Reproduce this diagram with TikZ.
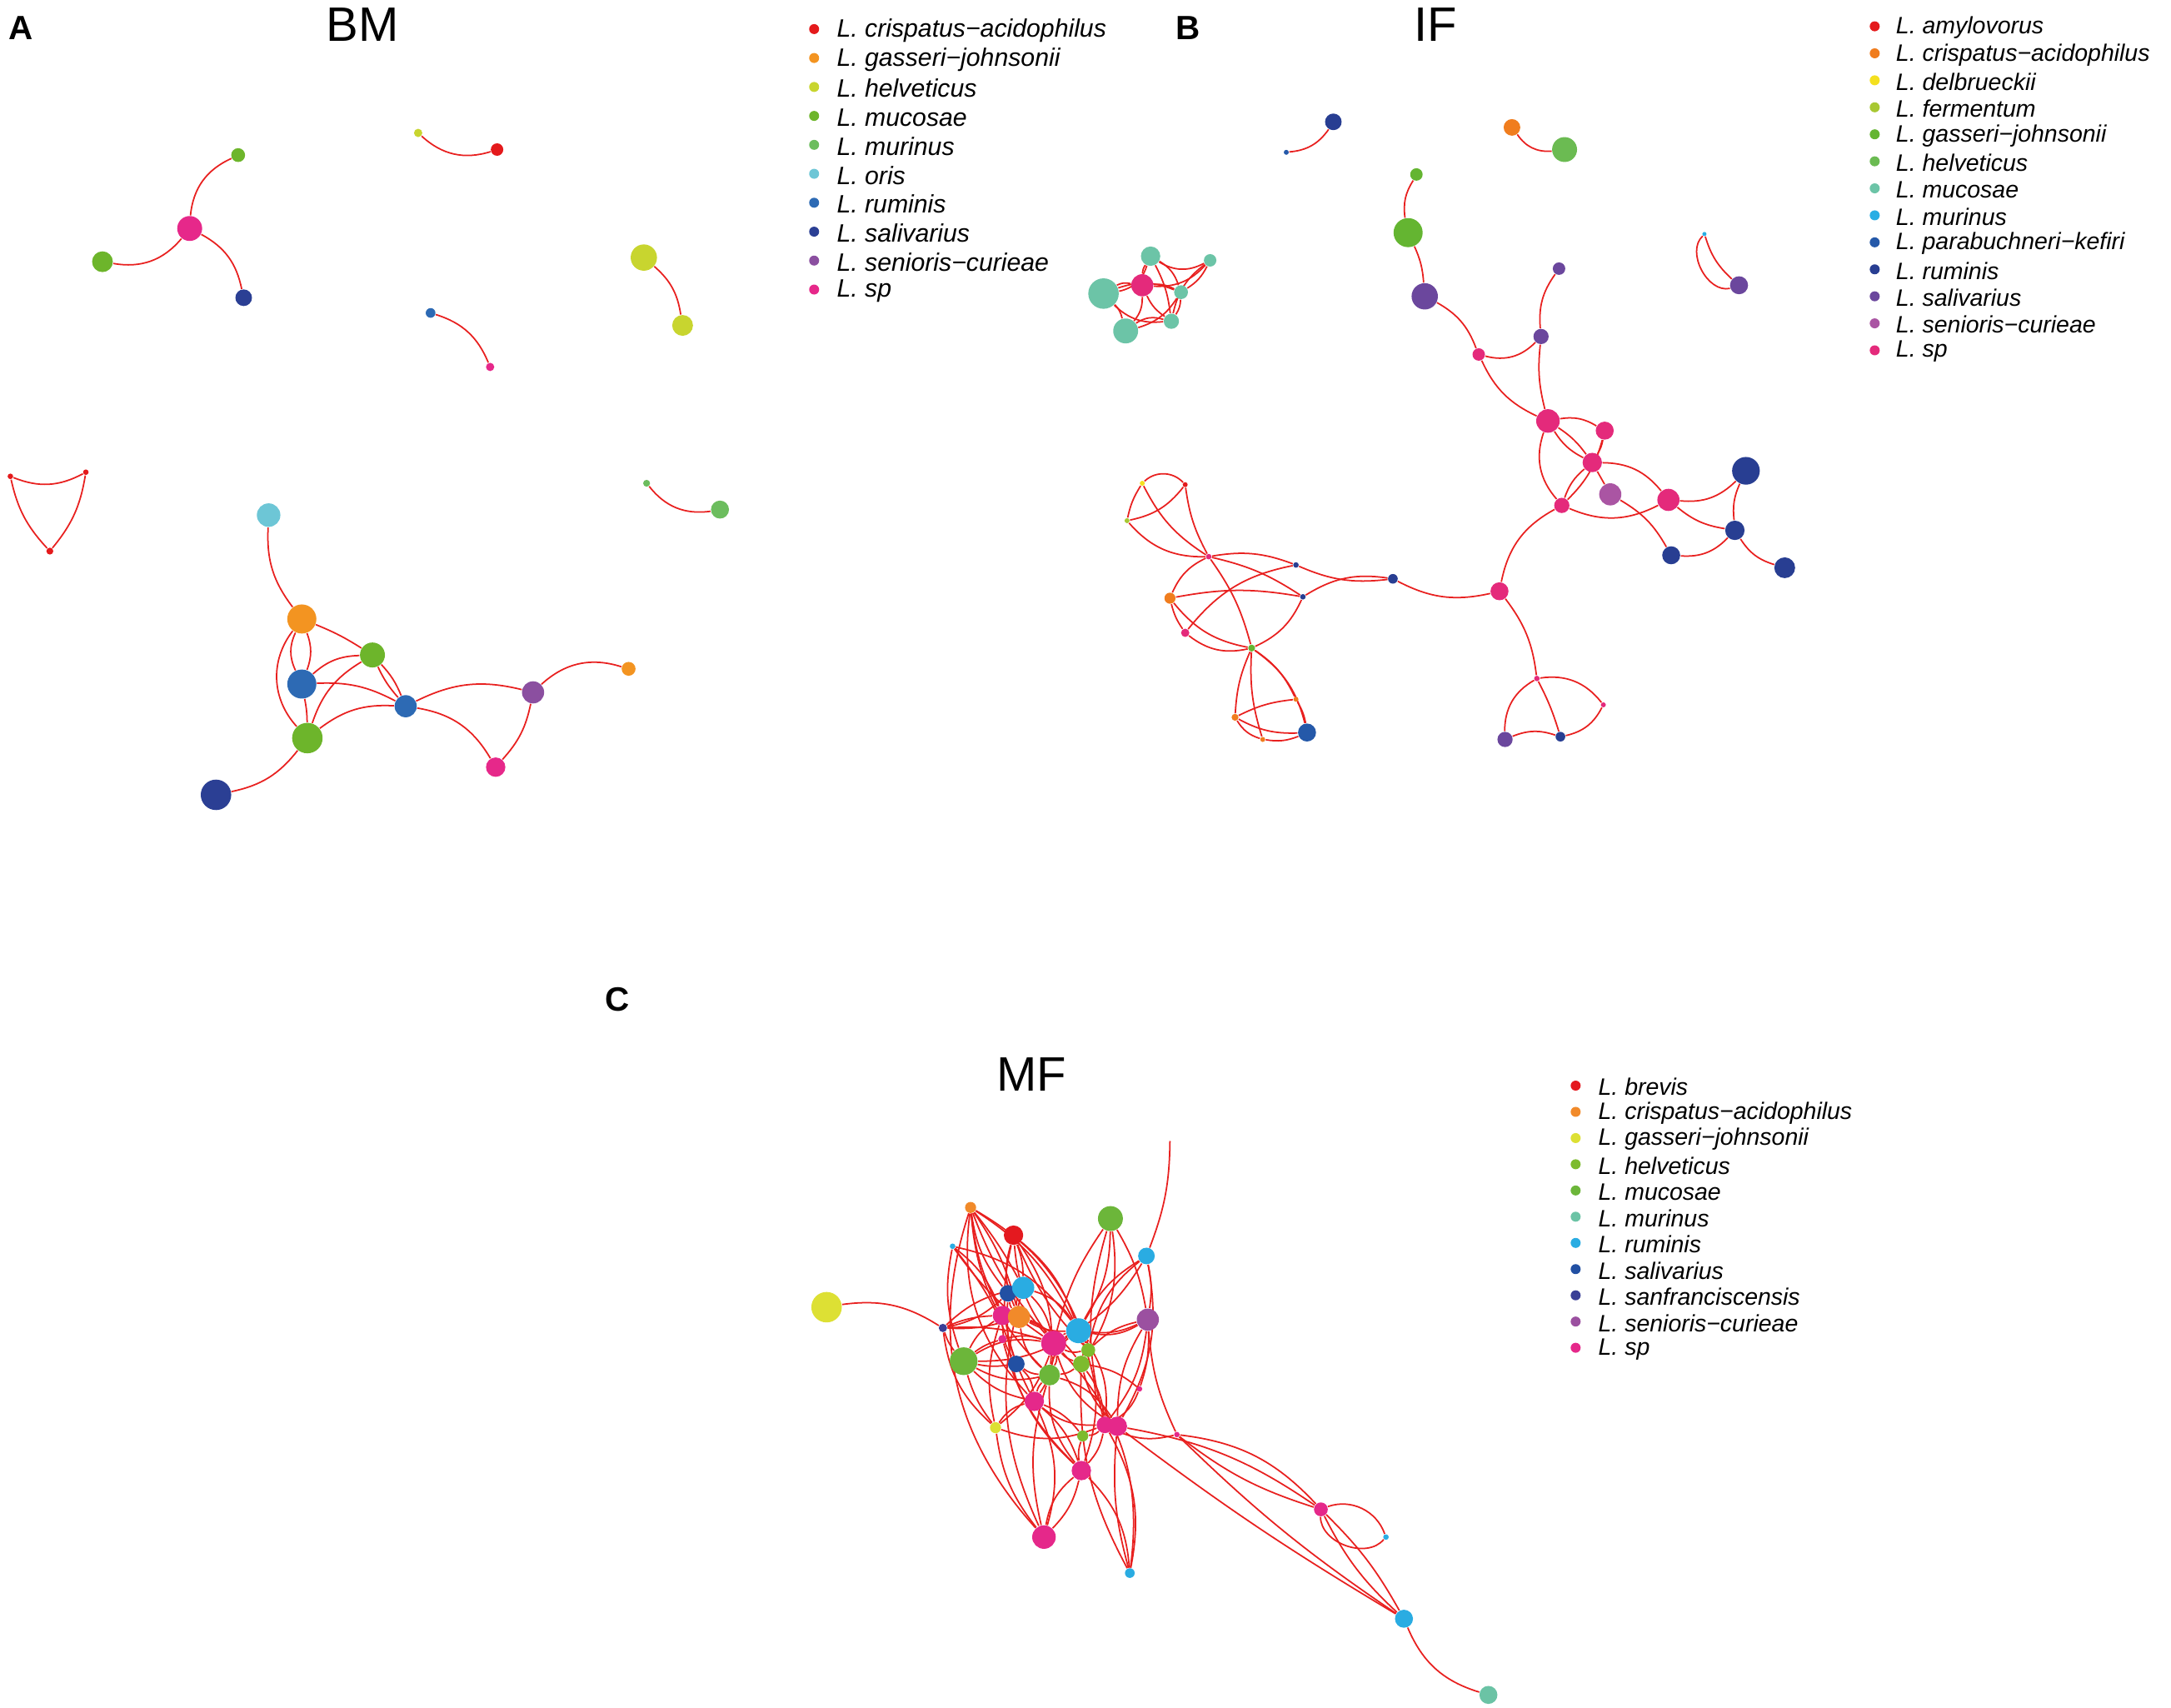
\documentclass[tikz,border=0pt]{standalone}
\usepackage{fontspec}
\setmainfont{Liberation Sans}
\usepackage{tikz}
\usetikzlibrary{backgrounds}

% 颜色
\definecolor{aCri}{HTML}{E41A1C}
\definecolor{aGas}{HTML}{F39421}
\definecolor{aHel}{HTML}{C8D52F}
\definecolor{aMuc}{HTML}{6DB52B}
\definecolor{aMur}{HTML}{6CBD5E}
\definecolor{aOri}{HTML}{6DC6D6}
\definecolor{aRum}{HTML}{2D6AB4}
\definecolor{aSal}{HTML}{2B3F94}
\definecolor{aSen}{HTML}{8B4FA0}
\definecolor{aSp}{HTML}{E6288A}
\definecolor{bAmy}{HTML}{E41A1C}
\definecolor{bCri}{HTML}{F07D1E}
\definecolor{bDel}{HTML}{F4E01F}
\definecolor{bFer}{HTML}{A8C833}
\definecolor{bGas}{HTML}{64B531}
\definecolor{bHel}{HTML}{6BBB52}
\definecolor{bMuc}{HTML}{6CC4A7}
\definecolor{bMur}{HTML}{29AEE4}
\definecolor{bPar}{HTML}{2559A9}
\definecolor{bRum}{HTML}{283E92}
\definecolor{bSal}{HTML}{6B479D}
\definecolor{bSen}{HTML}{AA55A3}
\definecolor{bSp}{HTML}{E42A7B}
\definecolor{cBre}{HTML}{E4191F}
\definecolor{cCri}{HTML}{F18A2A}
\definecolor{cGas}{HTML}{DDE034}
\definecolor{cHel}{HTML}{7DBB2E}
\definecolor{cMuc}{HTML}{6CB63A}
\definecolor{cMur}{HTML}{6BC3A5}
\definecolor{cRum}{HTML}{2AACE2}
\definecolor{cSal}{HTML}{2250A3}
\definecolor{cSan}{HTML}{3A3F96}
\definecolor{cSen}{HTML}{9B50A0}
\definecolor{cSp}{HTML}{E5288A}
\definecolor{edgered}{HTML}{E8201F}

\begin{document}
\begin{tikzpicture}[x=0.1662mm, y=-0.1662mm,
    vx/.style={circle, inner sep=0pt, draw=none},
    edge/.style={draw=edgered, line width=0.5pt},
    ldot/.style={circle, inner sep=0pt, minimum size=1.2mm},
    ltxt/.style={anchor=west, inner sep=0pt, font=\fontsize{8.6}{9}\selectfont\itshape},
    ttl/.style={font=\fontsize{16.5}{18}\selectfont},
    plab/.style={font=\fontsize{11.5}{13}\selectfont\bfseries}]
    \useasboundingbox (0,0) rectangle (1568,1233);

    % 标题
    \node[plab] (labA) at (15,20) {A};
    \node[ttl] (tBM) at (262,18) {BM};
    \node[plab] (labB) at (858,20) {B};
    \node[ttl] (tIF) at (1037,18) {IF};
    \node[plab] (labC) at (446,722) {C};
    \node[ttl] (tMF) at (745,776) {MF};

    % 图例 A
    \foreach \t/\c [count=\i] in {crispatus−acidophilus/aCri, gasseri−johnsonii/aGas,
        helveticus/aHel, mucosae/aMuc, murinus/aMur, oris/aOri, ruminis/aRum,
        salivarius/aSal, senioris−curieae/aSen, sp/aSp} {
        \node[ldot, fill=\c] (lda\i) at (588,21+20.9*\i-20.9) {};
        \node[ltxt] (lta\i) at (604,22+20.9*\i-20.9) {L. \t};
    }
    % 图例 B
    \foreach \t/\c [count=\i] in {amylovorus/bAmy, crispatus−acidophilus/bCri,
        delbrueckii/bDel, fermentum/bFer, gasseri−johnsonii/bGas, helveticus/bHel,
        mucosae/bMuc, murinus/bMur, parabuchneri−kefiri/bPar, ruminis/bRum,
        salivarius/bSal, senioris−curieae/bSen, sp/bSp} {
        \node[ldot, fill=\c] (ldb\i) at (1354,19+19.5*\i-19.5) {};
        \node[ltxt, font=\fontsize{8.1}{9}\selectfont\itshape] (ltb\i) at (1369,20+19.5*\i-19.5) {L. \t};
    }
    % 图例 C
    \foreach \t/\c [count=\i] in {brevis/cBre, crispatus−acidophilus/cCri,
        gasseri−johnsonii/cGas, helveticus/cHel, mucosae/cMuc, murinus/cMur,
        ruminis/cRum, salivarius/cSal, sanfranciscensis/cSan,
        senioris−curieae/cSen, sp/cSp} {
        \node[ldot, fill=\c] (ldc\i) at (1138,784+18.93*\i-18.93) {};
        \node[ltxt, font=\fontsize{8.1}{9}\selectfont\itshape] (ltc\i) at (1154,785+18.93*\i-18.93) {L. \t};
    }

    % 网络 A 的节点
    \foreach \n/\x/\y/\r/\c in {
        aStar/137/165/9/aSp, aMu1/172/112/5/aMuc, aMu2/74/189/7.5/aMuc, aSa1/176/215/6/aSal,
        aHt/302/96/3/aHel, aCr/359/108/4.5/aCri, aHe1/465/186/9.5/aHel, aHe2/493/235/7.5/aHel,
        aRs/311/226/3.5/aRum, aSs/354/265/3/aSp,
        aS1/7.5/344/2/aCri, aS2/62/341/2/aCri, aS3/36/398/2.5/aCri,
        aMt/467/349/2.5/aMur, aMr/520/368/6.5/aMur,
        aOr/194/372/8.5/aOri, aGa/218/447/10.5/aGas, aMc1/269/473/9/aMuc,
        aRu1/218/494/10.5/aRum, aRu2/293/510/8/aRum, aMc2/222/533/11/aMuc,
        aSa2/156/574/11/aSal, aSe/385/500/8/aSen, aGs/454/483/5/aGas, aSp/358/554/7/aSp} {
        \node[vx, fill=\c, minimum size=\r*0.3324mm] (\n) at (\x,\y) {};
    }
    % 网络 B 的节点
    \foreach \n/\x/\y/\r/\c in {
        bPt/929/110/1.8/bPar, bR0/963/88/6/bRum, bCr/1092/92/6/bCri, bHe/1130/108/9/bHel,
        bT1/797/212/11/bMuc, bTs/825/206/8/bSp, bT2/831/185/7/bMuc, bT3/874/188/4.5/bMuc,
        bT4/853/211/5/bMuc, bT5/846/232/5.5/bMuc, bT6/813/239/9/bMuc,
        bG1/1023/126/4.5/bGas, bG2/1017/168/10.5/bGas, bS1/1029/214/9.5/bSal,
        bP1/1068/256/4.5/bSp, bS2/1113/243/5.5/bSal, bS3/1126/194/4.5/bSal,
        bMt/1231/169/1.5/bMur, bSv/1256/206/6.5/bSal,
        bP2/1118/304/8.5/bSp, bP3/1159/311/6.5/bSp, bP4/1150/334/7/bSp, bSe/1163/357/8/bSen,
        bP5/1205/361/8/bSp, bP6/1128/365/5.5/bSp, bR1/1261/340/10/bRum, bR2/1253/383/7/bRum,
        bR4/1207/401/6.5/bRum, bR3/1289/410/7.5/bRum,
        bQ/1083/427/6.5/bSp, bRm/1006/418/3.5/bRum, bPt2/1110/490/2/bSp,
        bSa/1087/534/5.5/bSal, bRs/1127/532/3.5/bRum, bPt3/1158/509/1.8/bSp,
        bY/825/349/1.8/bDel, bRd/856/350/1.8/bAmy, bF/814/376/1.8/bFer, bL1/873/402/2/bSp,
        bRt1/936/408/2/bRum, bO1/845/432/4/bCri, bRt2/941/431/2/bRum, bL2/856/457/3/bSp,
        bGj/904/468/2.5/bGas, bO2/936/505/1.8/bCri, bO3/892/518/2.5/bCri, bO4/912/534/1.8/bCri,
        bPb/944/529/6.5/bPar} {
        \node[vx, fill=\c, minimum size=\r*0.3324mm] (\n) at (\x,\y) {};
    }
    % 网络 C 的节点
    \foreach \n/\x/\y/\r/\c in {
        cGb/597/944/11/cGas, cSf/681/959/3/cSan, cOt/701/872/4/cCri, cRt/688/900/2/cRum,
        cBr/732/892/7/cBre, cMb/802/880/9/cMuc, cRr/828/907/6/cRum,
        cSa1/728/934/6/cSal, cRu1/739/930/8/cRum, cSp1/724/950/7/cSp, cOr/736/951/8/cCri,
        cRu2/779/961/9/cRum, cSe/829/953/8/cSen, cSp2/724/967/3/cSp, cSp3/761/970/9/cSp,
        cHe1/786/975/5/cHel, cMu1/696/983/10/cMuc, cSa2/734/985/6/cSal, cHe2/781/985/6/cHel,
        cMu2/758/993/7.5/cMuc, cSp4/823/1003/2/cSp, cSp5/747/1012/7/cSp, cGs/719/1031/4/cGas,
        cSp6/798/1029/6/cSp, cSp7/807/1030/7/cSp, cHe3/782/1037/4/cHel, cSp8/850/1036/2/cSp,
        cSp9/781/1062/7/cSp, cSpA/754/1110/8.5/cSp, cRs/816/1136/3.5/cRum,
        cSpB/954/1090/5/cSp, cRx/1001/1110/2/cRum, cRy/1014/1169/6.5/cRum, cMr/1075/1224/6.5/cMur} {
        \node[vx, fill=\c, minimum size=\r*0.3324mm] (\n) at (\x,\y) {};
    }
    \coordinate (cTop) at (845,824);

    \begin{scope}[on background layer]
    % 网络 A 的边
    \foreach \a/\b/\s in {aStar/aMu1/30, aStar/aMu2/30, aStar/aSa1/25, aHt/aCr/-30,
        aHe1/aHe2/20, aRs/aSs/25, aS1/aS2/-25, aS1/aS3/-15, aS2/aS3/15, aMt/aMr/-30,
        aOr/aGa/-20, aGa/aMc1/5, aGa/aRu1/-25, aGa/aRu1/20, aGa/aMc2/-40,
        aMc1/aRu1/-20, aMc1/aRu2/10, aMc1/aRu2/-8, aMc1/aMc2/-20, aRu1/aRu2/15,
        aRu1/aMc2/5, aRu2/aMc2/-20, aRu2/aSe/20, aRu2/aSp/25, aSe/aSp/15,
        aSe/aGs/30, aMc2/aSa2/20} {
        \draw[edge] (\a) to[bend left=\s] (\b);
    }
    % 网络 B 的边
    \foreach \a/\b/\s in {bPt/bR0/-25, bCr/bHe/-30,
        bT1/bT2/-30, bT1/bTs/20, bT1/bT5/-25, bT1/bT6/15, bT1/bT4/20, bTs/bT2/15,
        bTs/bT3/-25, bTs/bT4/15, bTs/bT5/-15, bTs/bT6/20, bT2/bT3/-30, bT2/bT4/20,
        bT3/bT4/15, bT3/bT5/-20, bT4/bT5/15, bT6/bT5/25, bT6/bT4/-20, bT2/bT5/10,
        bG1/bG2/-20, bG2/bS1/10, bS1/bP1/20, bP1/bS2/-30, bS2/bS3/20, bP1/bP2/-20,
        bS2/bP2/-10, bMt/bSv/-75, bMt/bSv/-15,
        bP2/bP3/20, bP2/bP4/10, bP2/bP4/-15, bP2/bP6/-30, bP3/bP4/10, bP3/bP6/15,
        bP4/bSe/0, bP4/bP5/25, bP4/bP6/-15, bP6/bP5/-25, bSe/bR4/15, bP5/bR1/-25,
        bP5/bR2/-15, bR1/bR2/-15, bR2/bR3/-20, bR4/bR2/-25, bP6/bQ/-25, bQ/bRm/20,
        bQ/bPt2/15, bPt2/bSa/-30, bPt2/bRs/5, bPt2/bPt3/30, bSa/bRs/20, bRs/bPt3/-25,
        bY/bRd/45, bY/bF/-10, bRd/bF/20, bY/bL1/-15, bRd/bL1/-10, bF/bL1/-25,
        bL1/bRt1/15, bL1/bO1/-20, bL1/bGj/10, bL1/bRt2/10, bO1/bRt2/10, bO1/bL2/-10,
        bO1/bGj/-20, bL2/bRt1/20, bL2/bGj/-25, bGj/bRt2/-20, bRt1/bRm/-15, bRt2/bRm/20,
        bGj/bO2/15, bGj/bO3/-10, bGj/bO4/-10, bGj/bPb/20, bO3/bO2/10, bO3/bO4/-20,
        bO3/bPb/-15, bO4/bPb/-15, bO2/bPb/10} {
        \draw[edge] (\a) to[bend left=\s] (\b);
    }
    % 网络 C 的边
    \foreach \a/\b/\s in {cGb/cSf/20, cSf/cSp1/10, cSf/cMu1/-10, cSf/cRu1/15, cSf/cOr/-10,
        cSf/cSp3/10, cSf/cSa1/-15, cSf/cGs/-20,
        cOt/cSp1/-10, cOt/cOr/10, cOt/cSa1/-15, cOt/cRu2/15, cOt/cSp3/-10, cOt/cMu2/-20,
        cOt/cHe1/20, cOt/cRu1/5, cOt/cSp5/-25,
        cRt/cSp1/15, cRt/cMu1/-15, cRt/cSa2/10, cRt/cSp3/-10, cRt/cRu2/20,
        cBr/cRu1/10, cBr/cSp3/-15, cBr/cRu2/15, cBr/cHe1/-10, cBr/cOr/-20, cBr/cMu2/20,
        cMb/cRu2/15, cMb/cSp3/-10, cMb/cHe2/20, cMb/cSp6/-15, cMb/cSe/10,
        cRr/cTop/-10, cRr/cRu2/-15, cRr/cSe/10, cRr/cSp3/15, cRr/cHe1/-20, cRr/cSp7/20,
        cSe/cSp7/-15, cSe/cSp4/10, cSe/cRu2/20, cSe/cSp8/-10, cSe/cSp6/15,
        cSp8/cSpB/20, cSp8/cSpB/-10, cSp8/cRy/-5, cSp7/cSpB/12, cSp7/cRy/-3,
        cSp6/cSp8/-20, cSpB/cRx/45, cSpB/cRx/-70, cSpB/cRy/-10, cSpB/cRy/8, cRy/cMr/-25,
        cGs/cSpA/-15, cGs/cSp1/15, cGs/cSp3/-15, cGs/cMu1/10, cGs/cSp5/20, cGs/cSp6/-20,
        cSp9/cSpA/15, cSp9/cSpA/-20, cSp9/cRs/20, cSp9/cSp5/-15, cSp9/cHe3/15, cSp9/cSp6/-15,
        cSp9/cMu2/20, cSp9/cRu2/-20, cSpA/cSp5/-20, cSpA/cMu2/15, cSpA/cRu1/20,
        cRs/cSp6/-20, cRs/cHe2/15, cRs/cSp3/-25, cRs/cSp7/10,
        cMu1/cSp5/-15, cMu1/cSp2/10, cMu1/cSa2/-10, cMu1/cSp1/15, cMu1/cMu2/-20,
        cMu1/cSp3/20, cMu1/cRu2/-15,
        cSa1/cRu1/20, cSa1/cOr/-15, cRu1/cSp3/15, cRu1/cOr/-20, cRu1/cRu2/20,
        cSp1/cOr/15, cSp1/cSa2/-15, cOr/cSp3/20, cOr/cRu2/-15, cOr/cHe2/15, cOr/cMu2/-20,
        cSp3/cRu2/15, cSp3/cHe1/-20, cSp3/cMu2/20, cSp3/cHe2/-15, cSp3/cSp5/15,
        cRu2/cHe1/20, cRu2/cSe/-15, cRu2/cHe2/15, cRu2/cMu2/-20, cHe1/cSe/15,
        cHe1/cHe2/-20, cHe2/cMu2/15, cSa2/cMu2/-15, cSa2/cSp5/20, cMu2/cSp5/-15,
        cSp2/cSp3/15, cSp5/cSp6/-20, cSp5/cHe3/15, cHe3/cSp6/-20, cHe2/cSp6/15,
        cHe2/cSp7/-15, cSp4/cSp6/20, cSp4/cHe2/-15, cMu2/cSp7/20, cSp3/cSp7/-20,
        cRu2/cSp6/20, cSp2/cSp9/-15, cSa1/cSp9/-25, cBr/cSp5/-20, cOt/cSpA/-30} {
        \draw[edge] (\a) to[bend left=\s] (\b);
    }
    \end{scope}
\end{tikzpicture}
\end{document}
